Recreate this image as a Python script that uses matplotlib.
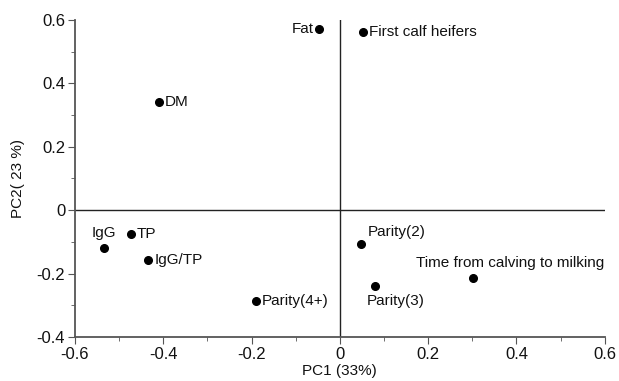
import matplotlib
matplotlib.use("Agg")
import matplotlib.pyplot as plt
from matplotlib.ticker import MultipleLocator

plt.rcParams['font.family'] = ['Liberation Sans', 'DejaVu Sans']

# PCA loadings
labels = ["Fat", "First calf heifers", "DM", "IgG", "TP", "IgG/TP",
          "Parity(4+)", "Parity(2)", "Parity(3)", "Time from calving to milking"]
pc1 = [-0.048, 0.052, -0.41, -0.534, -0.473, -0.434, -0.19, 0.048, 0.079, 0.301]
pc2 = [0.572, 0.562, 0.341, -0.12, -0.076, -0.158, -0.287, -0.107, -0.24, -0.215]

# label offsets in pixels (dx, dy, ha)
offsets = [(-5, 0, 'right'), (6, 0, 'left'), (6, 0, 'left'), (0, 15, 'center'),
           (6, 0, 'left'), (6, 0, 'left'), (6, 0, 'left'), (7, 12, 'left'),
           (21, -15, 'center'), (37, 15, 'center')]

fig = plt.figure(figsize=(6.19, 3.81), dpi=100)
ax = fig.add_axes([0.121, 0.1155, 0.856, 0.832])

ax.plot(pc1, pc2, 'o', color='black', markersize=5.5)
for lab, x, y, (dx, dy, ha) in zip(labels, pc1, pc2, offsets):
    ax.annotate(lab, (x, y), xytext=(dx, dy), textcoords='offset pixels',
                ha=ha, va='center', fontsize=11, color='#111111')

ax.axhline(0, color='#222222', lw=1)
ax.axvline(0, color='#222222', lw=1)

ax.set_xlim(-0.6, 0.6)
ax.set_ylim(-0.4, 0.6)
ax.xaxis.set_major_locator(MultipleLocator(0.2))
ax.xaxis.set_minor_locator(MultipleLocator(0.1))
ax.yaxis.set_major_locator(MultipleLocator(0.2))
ax.yaxis.set_minor_locator(MultipleLocator(0.1))
ax.set_xticklabels([f"{v:g}" for v in ax.get_xticks()])
ax.set_yticklabels([f"{v:g}" for v in ax.get_yticks()])

for s in ['top', 'right']:
    ax.spines[s].set_visible(False)
for s in ['left', 'bottom']:
    ax.spines[s].set_color('#555555')
    ax.spines[s].set_linewidth(1.3)
ax.tick_params(which='both', direction='out', color='#555555', labelsize=12,
               labelcolor='#111111', pad=2)
ax.tick_params(which='major', length=5)
ax.tick_params(which='minor', length=3)

ax.set_xlabel("PC1 (33%)", fontsize=11, labelpad=2, color='#111111')
ax.set_ylabel("PC2( 23 %)", fontsize=11, labelpad=8, color='#111111')

fig.savefig("out.png", dpi=100)
